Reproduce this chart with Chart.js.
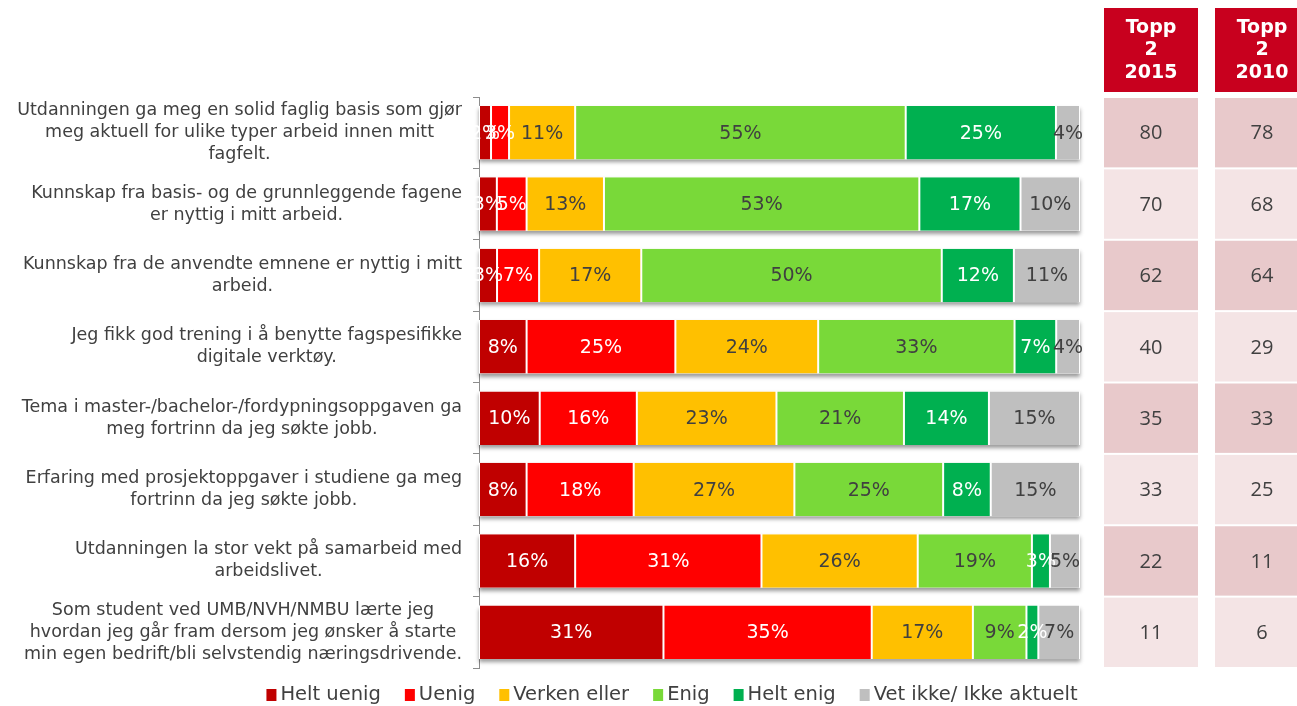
<!DOCTYPE html>
<html>
<head>
<meta charset="utf-8">
<script src="https://cdn.jsdelivr.net/npm/chart.js@4.4.0/dist/chart.umd.min.js"></script>
<style>
  html, body { margin: 0; padding: 0; background: #fff; }
  #wrap { width: 1297px; height: 706px; }
</style>
</head>
<body>
<div id="wrap"><canvas id="chart" width="1297" height="706"></canvas></div>
<script>
// statements, one array of lines per category
const statements = [
  ['Utdanningen ga meg en solid faglig basis som gjør', 'meg aktuell for ulike typer arbeid innen mitt', 'fagfelt.'],
  ['Kunnskap fra basis- og de grunnleggende fagene', 'er nyttig i mitt arbeid.'],
  ['Kunnskap fra de anvendte emnene er nyttig i mitt', 'arbeid.'],
  ['Jeg fikk god trening i å benytte fagspesifikke', 'digitale verktøy.'],
  ['Tema i master-/bachelor-/fordypningsoppgaven ga', 'meg fortrinn da jeg søkte jobb.'],
  ['Erfaring med prosjektoppgaver i studiene ga meg', 'fortrinn da jeg søkte jobb.'],
  ['Utdanningen la stor vekt på samarbeid med', 'arbeidslivet.'],
  ['Som student ved UMB/NVH/NMBU lærte jeg', 'hvordan jeg går fram dersom jeg ønsker å starte', 'min egen bedrift/bli selvstendig næringsdrivende.']
];
const seriesNames = ['Helt uenig', 'Uenig', 'Verken eller', 'Enig', 'Helt enig', 'Vet ikke/ Ikke aktuelt'];
const heltUenig = [2, 3, 3, 8, 10, 8, 16, 31];
const uenig = [3, 5, 7, 25, 16, 18, 31, 35];
const verkenEller = [11, 13, 17, 24, 23, 27, 26, 17];
const enig = [55, 53, 50, 33, 21, 25, 19, 9];
const heltEnig = [25, 17, 12, 7, 14, 8, 3, 2];
const vetIkke = [4, 10, 11, 4, 15, 15, 5, 7];
const topp2015 = [80, 70, 62, 40, 35, 33, 22, 11];
const topp2010 = [78, 68, 64, 29, 33, 25, 11, 6];
const toppHeaders = [['Topp', '2', '2015'], ['Topp', '2', '2010']];

const seriesValues = [heltUenig, uenig, verkenEller, enig, heltEnig, vetIkke];
const seriesColors = ['#C00000', '#FF0000', '#FFC000', '#79D939', '#00B050', '#BFBFBF'];
const labelColors = ['#ffffff', '#ffffff', '#404040', '#404040', '#ffffff', '#404040'];
const textColor = '#404040';

// 100% stacked: each row is scaled to its own total, labels keep the raw value
const rowTotals = statements.map((s, i) => seriesValues.reduce((acc, arr) => acc + arr[i], 0));

const datasets = seriesValues.map((vals, k) => ({
  label: seriesNames[k],
  data: vals.map((v, i) => v * 100 / rowTotals[i]),
  raw: vals,
  backgroundColor: seriesColors[k],
  borderColor: '#ffffff',
  borderWidth: { left: 1, right: 1, top: 0, bottom: 0 },
  borderSkipped: false,
  barPercentage: 0.75,
  categoryPercentage: 1
}));

// soft shadow under each full bar
const shadowPlugin = {
  id: 'barShadow',
  beforeDatasetsDraw(chart) {
    const ctx = chart.ctx;
    const first = chart.getDatasetMeta(0).data;
    const last = chart.getDatasetMeta(datasets.length - 1).data;
    ctx.save();
    ctx.shadowColor = 'rgba(0,0,0,0.4)';
    ctx.shadowBlur = 4;
    ctx.shadowOffsetY = 3;
    ctx.fillStyle = '#ffffff';
    first.forEach((bar, i) => {
      const left = bar.base;
      const right = last[i].x;
      const h = bar.height;
      ctx.fillRect(left, bar.y - h / 2, right - left, h);
    });
    ctx.restore();
  }
};

const valueLabelPlugin = {
  id: 'valueLabels',
  afterDatasetsDraw(chart) {
    const ctx = chart.ctx;
    ctx.save();
    ctx.font = '19px "DejaVu Sans", Verdana, sans-serif';
    ctx.textAlign = 'center';
    ctx.textBaseline = 'middle';
    datasets.forEach((ds, k) => {
      ctx.fillStyle = labelColors[k];
      chart.getDatasetMeta(k).data.forEach((bar, i) => {
        ctx.fillText(ds.raw[i] + '%', (bar.x + bar.base) / 2, bar.y + 1);
      });
    });
    ctx.restore();
  }
};

const sideStuffPlugin = {
  id: 'sideStuff',
  afterDraw(chart) {
    const ctx = chart.ctx;
    const yScale = chart.scales.y;
    const band = (yScale.bottom - yScale.top) / statements.length;
    ctx.save();

    // statement labels: blocks right aligned, lines centred inside the block
    ctx.font = '17.5px "DejaVu Sans", Verdana, sans-serif';
    ctx.fillStyle = textColor;
    ctx.textAlign = 'center';
    ctx.textBaseline = 'middle';
    const lineH = 22;
    statements.forEach((lines, i) => {
      const w = Math.max(...lines.map((l) => ctx.measureText(l).width));
      const cx = 462 - w / 2;
      const cy = yScale.getPixelForValue(i);
      lines.forEach((l, j) => {
        ctx.fillText(l, cx, cy + (j - (lines.length - 1) / 2) * lineH);
      });
    });

    // Topp 2 columns
    const cols = [{ left: 1104, values: topp2015 }, { left: 1215, values: topp2010 }];
    const colW = 94;
    cols.forEach((col, c) => {
      ctx.fillStyle = '#C8001E';
      ctx.fillRect(col.left, 8, colW, 84);
      ctx.fillStyle = '#ffffff';
      ctx.font = 'bold 19px "DejaVu Sans", Verdana, sans-serif';
      toppHeaders[c].forEach((l, j) => {
        ctx.fillText(l, col.left + colW / 2, 28 + j * 22.5);
      });
      col.values.forEach((v, i) => {
        const cy = yScale.getPixelForValue(i);
        ctx.fillStyle = i % 2 === 0 ? '#E8C9CB' : '#F4E4E5';
        ctx.fillRect(col.left, cy - band / 2 + 1, colW, band - 2);
        ctx.fillStyle = textColor;
        ctx.font = '20px "Open Sans", sans-serif';
        ctx.fillText(String(v), col.left + colW / 2, cy + 1);
      });
    });

    // legend along the bottom
    ctx.font = '19.5px "DejaVu Sans", Verdana, sans-serif';
    ctx.textAlign = 'left';
    const box = 10, gap = 4, spacing = 24;
    const widths = seriesNames.map((n) => ctx.measureText(n).width);
    const total = widths.reduce((a, w) => a + box + gap + w, 0) + spacing * (seriesNames.length - 1);
    let x = 672 - total / 2;
    const ly = 695;
    seriesNames.forEach((n, k) => {
      ctx.fillStyle = seriesColors[k];
      ctx.fillRect(x, ly - 6, box, 12);
      ctx.fillStyle = textColor;
      ctx.fillText(n, x + box + gap, ly);
      x += box + gap + widths[k] + spacing;
    });

    ctx.restore();
  }
};

new Chart(document.getElementById('chart'), {
  type: 'bar',
  data: { labels: statements.map((s) => s.join(' ')), datasets: datasets },
  options: {
    indexAxis: 'y',
    responsive: false,
    animation: false,
    layout: { padding: { left: 473, right: 217, top: 97, bottom: 38 } },
    scales: {
      x: { stacked: true, display: false, min: 0, max: 100 },
      y: {
        stacked: true,
        border: { display: true, color: '#8c8c8c', width: 1 },
        grid: { display: true, drawOnChartArea: false, drawTicks: true, tickLength: 6, color: '#8c8c8c', offset: true },
        ticks: { display: false }
      }
    },
    plugins: {
      legend: { display: false },
      tooltip: { enabled: false }
    }
  },
  plugins: [shadowPlugin, valueLabelPlugin, sideStuffPlugin]
});
</script>
</body>
</html>
